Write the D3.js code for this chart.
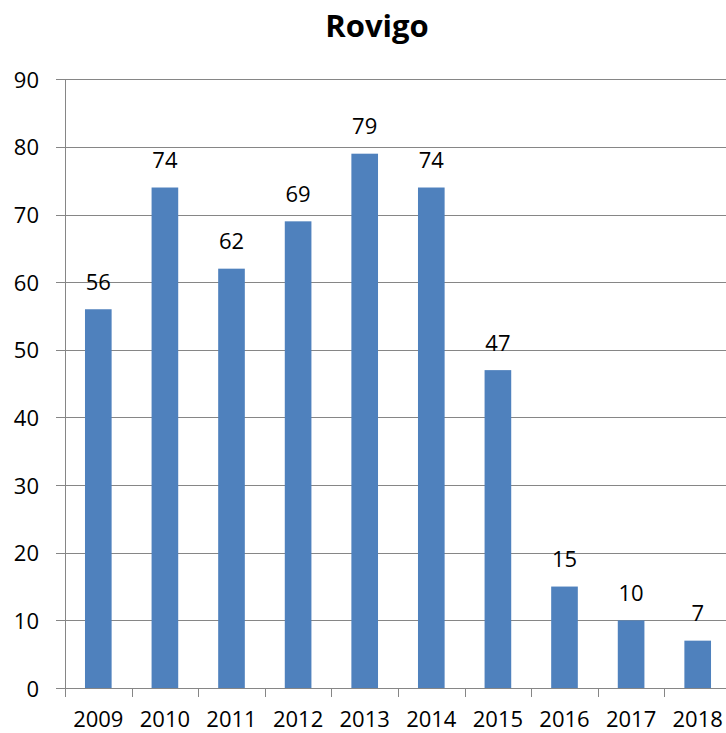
<!DOCTYPE html>
<html>
<head>
<meta charset="utf-8">
<script src="https://cdn.jsdelivr.net/npm/d3@7"></script>
<style>
  html, body { margin: 0; padding: 0; background: #fff; }
  svg { display: block; }
  text { font-family: "Open Sans", "Liberation Sans", sans-serif; fill: #000; }
</style>
</head>
<body>
<svg id="chart" width="726" height="733"></svg>
<script>
const title = "Rovigo";
const years = ["2009","2010","2011","2012","2013","2014","2015","2016","2017","2018"];
const values = [56, 74, 62, 69, 79, 74, 47, 15, 10, 7];
const yTicks = [0,10,20,30,40,50,60,70,80,90];

(function () {
const svg = d3.select("#chart");
const mLeft = 65, mRight = 731, mTop = 79.3, mBottom = 688;
const gridColor = "#868686";

const x = d3.scaleBand().domain(years).range([mLeft, mRight]).paddingInner(0.6).paddingOuter(0.3);
const y = d3.scaleLinear().domain([0, 90]).range([mBottom, mTop]);

// gridlines
svg.append("g").selectAll("line").data(yTicks).join("line")
  .attr("x1", mLeft - 9).attr("x2", 726)
  .attr("y1", d => Math.round(y(d)) + 0.5).attr("y2", d => Math.round(y(d)) + 0.5)
  .attr("stroke", gridColor).attr("stroke-width", 1);

// y axis line
svg.append("line").attr("x1", mLeft + 0.5).attr("x2", mLeft + 0.5)
  .attr("y1", Math.round(y(90)) + 0.5).attr("y2", Math.round(mBottom) + 0.5)
  .attr("stroke", gridColor);

// x tick marks (category boundaries)
const step = x.step();
const boundaries = d3.range(years.length + 1).map(i => mLeft + i * step);
svg.append("g").selectAll("line").data(boundaries).join("line")
  .attr("x1", d => Math.round(d) + 0.5).attr("x2", d => Math.round(d) + 0.5)
  .attr("y1", Math.round(mBottom) + 0.5).attr("y2", mBottom + 9)
  .attr("stroke", gridColor);

// y labels
svg.append("g").selectAll("text").data(yTicks).join("text")
  .attr("x", 39).attr("y", d => y(d) + 8.5)
  .attr("text-anchor", "end").attr("font-size", 22)
  .text(d => d);

// bars
svg.append("g").selectAll("rect").data(values).join("rect")
  .attr("x", (d, i) => x(years[i]))
  .attr("width", x.bandwidth())
  .attr("y", d => y(d))
  .attr("height", d => mBottom - y(d))
  .attr("fill", "#4F81BD");

// value labels
svg.append("g").selectAll("text").data(values).join("text")
  .attr("x", (d, i) => x(years[i]) + x.bandwidth() / 2)
  .attr("y", d => y(d) - 19.5)
  .attr("text-anchor", "middle").attr("font-size", 22)
  .text(d => d);

// x labels
svg.append("g").selectAll("text").data(years).join("text")
  .attr("x", d => x(d) + x.bandwidth() / 2)
  .attr("y", 727)
  .attr("text-anchor", "middle").attr("font-size", 22)
  .text(d => d);

// title
svg.append("text").attr("x", 377).attr("y", 36.5)
  .attr("text-anchor", "middle").attr("font-size", 31).attr("font-weight", "bold")
  .text(title);
})();
</script>
</body>
</html>
